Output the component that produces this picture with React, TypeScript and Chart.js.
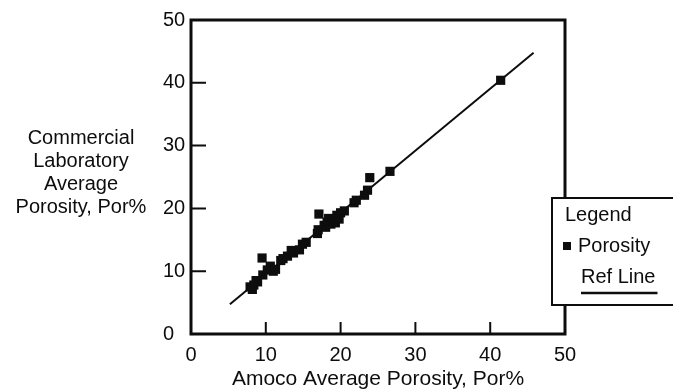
import React, { useEffect, useRef } from "react";
import { Chart, registerables } from "chart.js";

Chart.register(...registerables);

// Amoco vs. commercial laboratory average porosity (Por%)
const amocoPorosity = [
  7.9, 8.2, 8.4, 8.7, 8.9, 9.5, 9.6, 10.2, 10.6, 11.0, 11.3, 12.0, 12.3, 12.9,
  13.4, 13.7, 14.5, 14.9, 15.4, 16.9, 17.0, 17.1, 17.8, 18.0, 18.2, 18.4, 18.7,
  19.0, 19.3, 19.5, 19.8, 20.0, 20.5, 21.8, 22.1, 23.2, 23.6, 23.9, 26.6, 41.4,
];
const labPorosity = [
  7.5, 7.1, 7.8, 8.5, 8.3, 12.1, 9.4, 10.2, 10.8, 10.0, 10.3, 11.7, 12.0, 12.4,
  13.3, 12.9, 13.4, 14.3, 14.6, 16.0, 16.6, 19.1, 17.3, 17.0, 17.8, 18.4, 17.5,
  18.2, 17.7, 18.9, 18.3, 19.3, 19.6, 20.9, 21.3, 22.1, 22.9, 24.9, 25.9, 40.4,
];

// Reference line end points
const refLineX = [5.2, 45.8];
const refLineY = [4.75, 44.8];

const axisTickValues = [0, 10, 20, 30, 40, 50];
const xAxisTitle = "Amoco Average Porosity, Por%";
const yAxisTitleLines = ["Commercial", "Laboratory", "Average", "Porosity, Por%"];
const legendHeading = "Legend";
const porositySeriesName = "Porosity";
const refLineName = "Ref Line";

const FONT = "'Liberation Sans', Arial, Helvetica, sans-serif";
const INK = "#0d0d0d";

// Box frame with inward tick marks
const framePlugin = {
  id: "frame",
  beforeDatasetsDraw(chart: any) {
    const { ctx, chartArea: a, scales } = chart;
    ctx.save();
    ctx.strokeStyle = INK;
    ctx.lineWidth = 3;
    ctx.strokeRect(a.left, a.top, a.right - a.left, a.bottom - a.top);
    ctx.lineWidth = 2;
    ctx.beginPath();
    axisTickValues.slice(1, -1).forEach((v) => {
      const x = scales.x.getPixelForValue(v);
      ctx.moveTo(x, a.bottom);
      ctx.lineTo(x, a.bottom - 12);
      const y = scales.y.getPixelForValue(v);
      ctx.moveTo(a.left, y);
      ctx.lineTo(a.left + 15, y);
    });
    ctx.stroke();
    ctx.restore();
  },
};

// Horizontal, multi-line y-axis title
const yTitlePlugin = {
  id: "yTitle",
  afterDraw(chart: any) {
    const { ctx, chartArea: a } = chart;
    const mid = (a.top + a.bottom) / 2 - 4.5;
    const lh = 23;
    ctx.save();
    ctx.fillStyle = INK;
    ctx.font = `20px ${FONT}`;
    ctx.textAlign = "center";
    ctx.textBaseline = "middle";
    yAxisTitleLines.forEach((line, i) => {
      ctx.fillText(line, 81, mid + (i - (yAxisTitleLines.length - 1) / 2) * lh);
    });
    ctx.restore();
  },
};

// Boxed legend overlapping the right edge of the frame
const legendBoxPlugin = {
  id: "legendBox",
  afterDraw(chart: any) {
    const { ctx, chartArea: a, width } = chart;
    const left = a.right - 13;
    const top = a.top + 178;
    const bottom = a.top + 285;
    ctx.save();
    ctx.fillStyle = "#ffffff";
    ctx.fillRect(left, top, width - left + 2, bottom - top);
    ctx.strokeStyle = INK;
    ctx.lineWidth = 2;
    ctx.beginPath();
    ctx.moveTo(width + 2, top);
    ctx.lineTo(left, top);
    ctx.lineTo(left, bottom);
    ctx.lineTo(width + 2, bottom);
    ctx.stroke();

    ctx.fillStyle = INK;
    ctx.font = `20px ${FONT}`;
    ctx.textAlign = "left";
    ctx.textBaseline = "middle";
    ctx.fillText(legendHeading, left + 13, top + 17);

    ctx.fillRect(left + 11, top + 44, 8, 8);
    ctx.fillText(porositySeriesName, left + 26, top + 48);

    const refX = left + 29;
    ctx.fillText(refLineName, refX, top + 79);
    const w = ctx.measureText(refLineName).width;
    ctx.lineWidth = 2.5;
    ctx.beginPath();
    ctx.moveTo(refX, top + 95);
    ctx.lineTo(refX + w + 2, top + 95);
    ctx.stroke();
    ctx.restore();
  },
};

export default function App() {
  const canvasRef = useRef<HTMLCanvasElement | null>(null);

  useEffect(() => {
    if (!canvasRef.current) return;
    const points = amocoPorosity.map((x, i) => ({ x, y: labPorosity[i] }));
    const refLine = refLineX.map((x, i) => ({ x, y: refLineY[i] }));

    const chart = new Chart(canvasRef.current, {
      type: "scatter",
      data: {
        datasets: [
          {
            label: refLineName,
            data: refLine,
            showLine: true,
            borderColor: INK,
            borderWidth: 2,
            pointRadius: 0,
            order: 2,
          },
          {
            label: porositySeriesName,
            data: points,
            pointStyle: "rect",
            pointRadius: 6.5,
            backgroundColor: INK,
            borderColor: INK,
            borderWidth: 0,
            order: 1,
          },
        ],
      },
      options: {
        responsive: false,
        animation: false,
        layout: { padding: { left: 163, top: 20, right: 108, bottom: 0 } },
        plugins: {
          legend: { display: false },
          tooltip: { enabled: false },
        },
        scales: {
          x: {
            type: "linear",
            min: 0,
            max: 50,
            afterBuildTicks: (s: any) => {
              s.ticks = axisTickValues.map((v) => ({ value: v }));
            },
            afterFit: (s: any) => {
              s.height = 56;
            },
            grid: { display: false, drawTicks: false },
            border: { display: false },
            ticks: {
              color: INK,
              font: { family: FONT, size: 20 },
              padding: 9,
              maxRotation: 0,
            },
            title: {
              display: true,
              text: xAxisTitle,
              color: INK,
              font: { family: FONT, size: 21, lineHeight: 1 },
              padding: { top: 0, bottom: 0 },
            },
          },
          y: {
            type: "linear",
            min: 0,
            max: 50,
            afterBuildTicks: (s: any) => {
              s.ticks = axisTickValues.map((v) => ({ value: v }));
            },
            afterFit: (s: any) => {
              s.width = 28;
            },
            grid: { display: false, drawTicks: false },
            border: { display: false },
            ticks: {
              color: INK,
              font: { family: FONT, size: 20 },
              crossAlign: "far",
              padding: 0,
            },
          },
        },
      },
      plugins: [framePlugin, yTitlePlugin, legendBoxPlugin],
    });

    return () => chart.destroy();
  }, []);

  return (
    <div style={{ position: "absolute", left: 0, top: 0, width: 673, height: 390, background: "#fff" }}>
      <canvas ref={canvasRef} width={673} height={390} style={{ display: "block" }} />
    </div>
  );
}
